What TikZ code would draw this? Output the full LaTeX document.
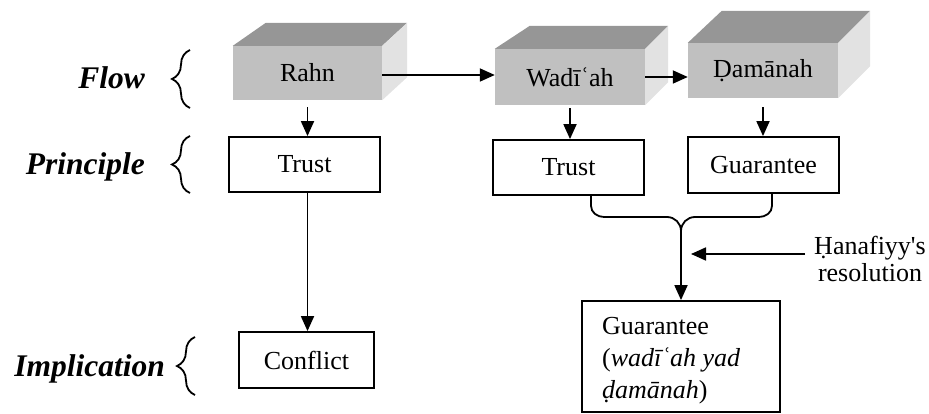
\documentclass[tikz,border=0pt]{standalone}
\usepackage{fontspec}
\setmainfont{Liberation Serif}
\usetikzlibrary{arrows.meta,decorations.pathreplacing,calc}
\definecolor{topgray}{RGB}{150,150,150}
\definecolor{frontgray}{RGB}{192,192,192}
\definecolor{sidegray}{RGB}{226,226,226}
\newcommand{\bodyfont}{\fontsize{26}{32}\selectfont}
\newcommand{\labfont}{\fontsize{31.5}{36}\selectfont\bfseries\itshape}
\begin{document}
\begin{tikzpicture}[x=1pt,y=-1pt,
 face/.style={fill=frontgray,inner sep=0pt,font=\bodyfont},
 topface/.style={fill=topgray},
 sideface/.style={fill=sidegray},
 plainbox/.style={draw,line width=1.8pt,inner sep=0pt,font=\bodyfont},
 conn/.style={line width=1.8pt},
 arr/.style={conn,-{Triangle[length=15pt,width=13pt]}},
 lab/.style={font=\labfont,anchor=base east,inner sep=0pt},
 lbrace/.style={conn,decorate,decoration={brace,amplitude=18pt}},
]
\useasboundingbox (0,0) rectangle (929,414);

% 3D boxes
\node[face,minimum width=149pt,minimum height=54pt] (rahn) at (307.5,73) {Rahn};
\fill[topface] (rahn.north west) -- ++(33,-23) -- ($(rahn.north east)+(25,-23)$) -- (rahn.north east) -- cycle;
\fill[sideface] (rahn.north east) -- ++(25,-23) -- ($(rahn.south east)+(25,-23)$) -- (rahn.south east) -- cycle;

\node[face,minimum width=150pt,minimum height=56pt] (wadiah) at (570,77) {Wadīʿah};
\fill[topface] (wadiah.north west) -- ++(35,-23) -- ($(wadiah.north east)+(23,-23)$) -- (wadiah.north east) -- cycle;
\fill[sideface] (wadiah.north east) -- ++(23,-23) -- ($(wadiah.south east)+(23,-23)$) -- (wadiah.south east) -- cycle;

\node[face,minimum width=150pt,minimum height=55pt] (damanah) at (763,70.5) {Ḍamānah};
\fill[topface] (damanah.north west) -- ++(34,-32) -- ($(damanah.north east)+(32,-32)$) -- (damanah.north east) -- cycle;
\fill[sideface] (damanah.north east) -- ++(32,-32) -- ($(damanah.south east)+(32,-32)$) -- (damanah.south east) -- cycle;

% plain boxes
\node[plainbox,minimum width=151pt,minimum height=55pt] (trust1) at (304.5,164.5) {Trust};
\node[plainbox,minimum width=151pt,minimum height=55pt] (trust2) at (568.5,167.5) {Trust};
\node[plainbox,minimum width=151pt,minimum height=56pt] (guar) at (763.5,165) {Guarantee};
\node[plainbox,minimum width=135pt,minimum height=56pt] (conflict) at (306.5,360) {Conflict};
\node[plainbox,minimum width=198pt,minimum height=111pt] (guar2) at (681,356.5) {};
\node[font=\bodyfont,align=left,anchor=north west,inner sep=0pt] (guartext) at (602,317.5)
  {Guarantee\\(\textit{wadīʿah yad}\\\textit{ḍamānah})};
\node[font=\fontsize{26}{27}\selectfont,align=center,inner sep=0pt] (hanafi) at (870,259)
  {Ḥanafiyy\textquotesingle s\\resolution};

% labels and braces
\node[lab] (flow) at (145,89) {Flow};
\node[lab] (principle) at (145,175) {Principle};
\node[lab] (implication) at (165,376) {Implication};
\draw[lbrace] (190,108) -- (190,50);
\draw[lbrace] (190,193) -- (190,136);
\draw[lbrace] (195,395) -- (195,337);

% connectors
\draw[arr] (rahn.east |- 0,75) -- (wadiah.west |- 0,75);
\draw[arr] (wadiah.east |- 0,77) -- (damanah.west |- 0,77);
\draw[arr] ([yshift=-7pt]rahn.south) -- (rahn.south |- trust1.north);
\draw[arr] (rahn.south |- trust1.south) -- (rahn.south |- conflict.north);
\draw[arr] ([yshift=-3pt]wadiah.south) -- (wadiah.south |- trust2.north);
\draw[arr] ([yshift=-9pt]damanah.south) -- (damanah.south |- guar.north);

\coordinate (merge) at (681,231);
\draw[conn] ([xshift=22.5pt]trust2.south) -- ++(0,10) to[out=-90,in=180] (604,217) -- (667,217) to[out=0,in=90] (merge);
\draw[conn] ([xshift=8.5pt]guar.south) -- ++(0,12) to[out=-90,in=0] (759,217) -- (695,217) to[out=180,in=90] (merge);
\draw[arr] (merge) -- (guar2.north);

\coordinate (hs) at (805,254);
\coordinate (he) at (691,254);
\draw[arr] (hs) -- (he);
\end{tikzpicture}
\end{document}
